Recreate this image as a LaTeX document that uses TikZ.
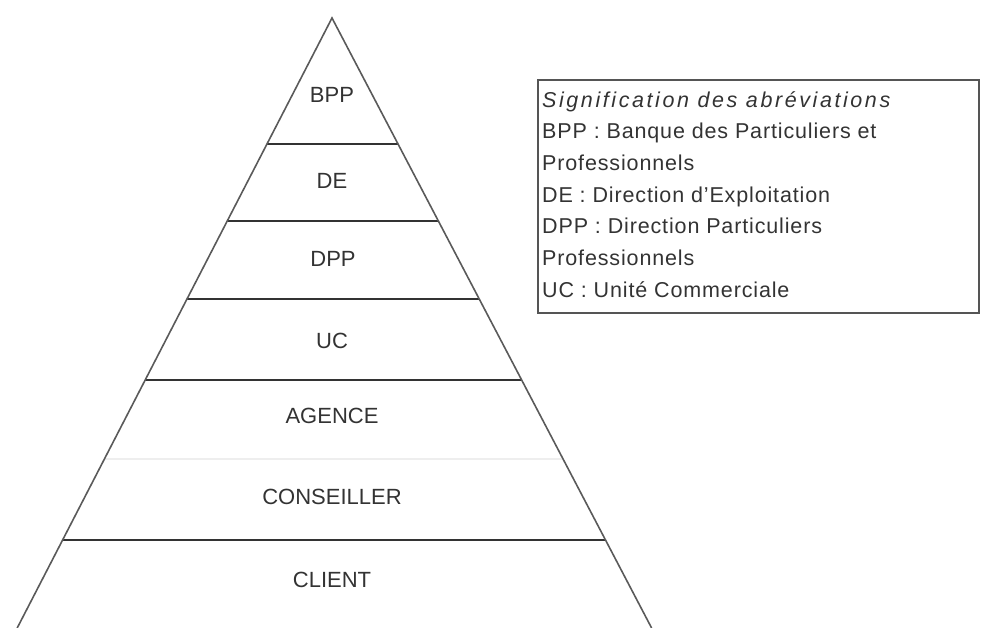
\documentclass[tikz,border=0pt]{standalone}
\usepackage{fontspec}
\setmainfont{Liberation Sans}
\usetikzlibrary{calc}

\definecolor{edgegray}{HTML}{5A5A5A}
\definecolor{bandline}{HTML}{333333}
\definecolor{faintline}{HTML}{EEEEEE}
\definecolor{inkgray}{HTML}{333333}
\definecolor{boxgray}{HTML}{555555}

\tikzset{
  side/.style={draw=edgegray, line width=1.6pt},
  divider/.style={draw=bandline, line width=2.6pt},
  softdivider/.style={draw=faintline, line width=2pt},
  level/.style={font=\fontsize{22}{26}\selectfont, text=inkgray, inner sep=0pt},
  legendbox/.style={draw=boxgray, line width=2.2pt},
  legendtext/.style={font=\fontsize{21.5}{31.7}\selectfont\addfontfeatures{LetterSpace=4},
    text=inkgray, align=left, inner sep=0pt, anchor=north west},
}

\begin{document}
\begin{tikzpicture}[x=1pt, y=-1pt]
  \useasboundingbox (0,0) rectangle (981,628);

  % apex and base corners of the pyramid
  \coordinate (apex) at (332,18);
  \coordinate (bl) at (17.2,628);
  \coordinate (br) at (651.6,628);

  % horizontal dividers between the levels (fraction of the height from the apex)
  \foreach \name/\t in {d1/0.2066, d2/0.3328, d3/0.4607, d4/0.5934, d6/0.8557} {
    \coordinate (\name l) at ($(apex)!\t!(bl)$);
    \coordinate (\name r) at ($(apex)!\t!(br)$);
    \draw[divider] (\name l) -- (\name r);
  }
  \coordinate (d5l) at ($(apex)!0.7230!(bl)$);
  \coordinate (d5r) at ($(apex)!0.7230!(br)$);
  \draw[softdivider] (d5l) -- (d5r);

  % sides of the pyramid
  \draw[side] (bl) -- (apex) -- (br);

  % level labels
  \node[level] (bpp) at (332,95) {BPP};
  \node[level] (de) at (332,181) {DE};
  \node[level] (dpp) at (333,259) {DPP};
  \node[level] (uc) at (332,341) {UC};
  \node[level] (agence) at (332,416) {AGENCE};
  \node[level] (conseiller) at (332,497) {CONSEILLER};
  \node[level] (client) at (332,580) {CLIENT};

  % legend of abbreviations
  \draw[legendbox] (538,80) rectangle (979,313);
  \node[legendtext] (legend) at (542,91) {%
    {\itshape\addfontfeatures{LetterSpace=12}Signification des abréviations}\\
    BPP : Banque des Particuliers et\\
    Professionnels\\
    DE : Direction d'Exploitation\\
    DPP : Direction Particuliers\\
    Professionnels\\
    UC : Unité Commerciale};
\end{tikzpicture}
\end{document}
